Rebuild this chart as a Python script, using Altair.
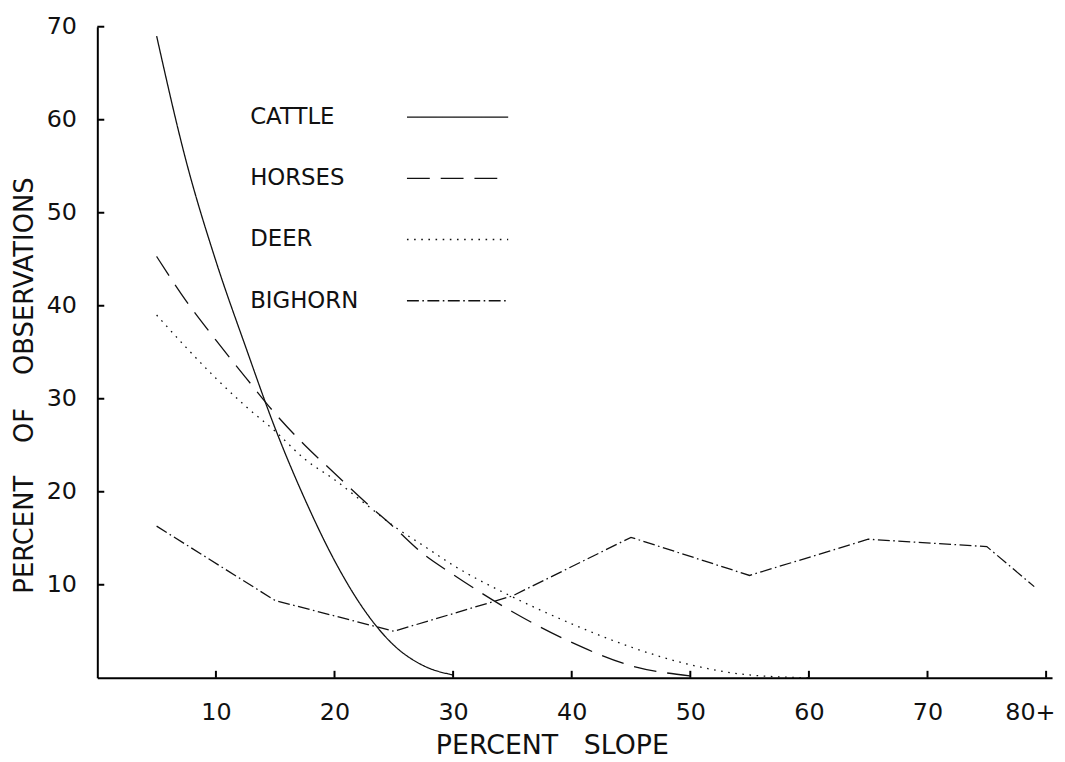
import altair as alt
import pandas as pd

# ---- data ----
species = ["CATTLE", "HORSES", "DEER", "BIGHORN"]

cattle_x = [5, 7.5, 10, 12.5, 15, 17.5, 20, 22.5, 25, 27.5, 30]
cattle_y = [69, 55.5, 44.8, 35.6, 26.8, 19.2, 12.6, 7.3, 3.5, 1.3, 0.3]

horses_x = [5, 7.5, 10, 12.5, 15, 17.5, 20, 22.5, 25, 27.5, 30, 35, 40, 45, 50]
horses_y = [45.3, 40.5, 36.3, 32.3, 28.4, 25.0, 22.0, 19.0, 16.2, 13.3, 11.1, 7.1, 3.8, 1.3, 0.2]

deer_x = [5, 7.5, 10, 12.5, 15, 17.5, 20, 22.5, 25, 27.5, 30, 35, 40, 45, 50, 55, 60]
deer_y = [39.0, 35.5, 32.2, 29.2, 26.5, 23.5, 21.3, 18.8, 16.3, 14.2, 12.1, 8.7, 5.8, 3.3, 1.4, 0.3, 0.0]

bighorn_x = [5, 15, 25, 35, 45, 55, 65, 75, 79]
bighorn_y = [16.3, 8.3, 5.0, 8.8, 15.1, 11.0, 14.9, 14.1, 9.8]

x_tick_values = [10, 20, 30, 40, 50, 60, 70, 80]
x_tick_labels = ["10", "20", "30", "40", "50", "60", "70", "80+"]
y_tick_values = [10, 20, 30, 40, 50, 60, 70]

x_title = "PERCENT\u00a0\u00a0\u00a0SLOPE"
y_title = "PERCENT\u00a0\u00a0\u00a0\u00a0OF\u00a0\u00a0\u00a0\u00a0OBSERVATIONS"

# ---- styling ----
FONT = "DejaVu Sans"
INK = "#111111"
W, H = 962, 656
dashes = [[1, 0], [23, 11], [1.6, 5.6], [12, 3.5, 1.6, 3.5]]

rows = []
for name, xs, ys in [("CATTLE", cattle_x, cattle_y), ("HORSES", horses_x, horses_y),
                     ("DEER", deer_x, deer_y), ("BIGHORN", bighorn_x, bighorn_y)]:
    for a, b in zip(xs, ys):
        rows.append({"species": name, "slope": a, "pct": b})
df = pd.DataFrame(rows)

label_expr = "{" + ",".join(f"'{v}':'{l}'" for v, l in zip(x_tick_values, x_tick_labels)) + "}[datum.value]"
last_x = x_tick_values[-1]

x_scale = alt.Scale(domain=[0, 80.5], nice=False, zero=True)
y_scale = alt.Scale(domain=[0, 70], nice=False, zero=True)

x_axis = alt.Axis(values=x_tick_values, labelExpr=label_expr, tickSize=0, grid=False,
                  domainColor="black", domainWidth=2, labelFontSize=24, labelFont=FONT,
                  labelColor=INK, labelPadding=23,
                  labelAlign={"condition": {"test": f"datum.value == {last_x}", "value": "right"}, "value": "center"},
                  labelOffset={"condition": {"test": f"datum.value == {last_x}", "value": 9}, "value": 0},
                  title=x_title, titleFont=FONT,
                  titleFontSize=27, titleFontWeight="normal", titleColor=INK,
                  titleX=458, titleY=55, titleAlign="center", titleBaseline="top")
y_axis = alt.Axis(values=y_tick_values, tickSize=0, grid=False, domainColor="black",
                  domainWidth=2, labelFontSize=24, labelFont=FONT, labelColor=INK,
                  labelPadding=21, title=y_title, titleFont=FONT, titleFontSize=26,
                  titleFontWeight="normal", titleColor=INK, titleX=-60, titleY=361,
                  titleAlign="center", titleAngle=270)

smooth_df = df[df.species != "BIGHORN"]
big_df = df[df.species == "BIGHORN"]

dash_scale = alt.Scale(domain=species, range=dashes)

smooth = alt.Chart(smooth_df).mark_line(interpolate="monotone", color=INK, strokeWidth=1.3).encode(
    x=alt.X("slope:Q", scale=x_scale, axis=x_axis),
    y=alt.Y("pct:Q", scale=y_scale, axis=y_axis),
    strokeDash=alt.StrokeDash("species:N", scale=dash_scale, legend=None),
)
big = alt.Chart(big_df).mark_line(interpolate="linear", color=INK, strokeWidth=1.3).encode(
    x=alt.X("slope:Q", scale=x_scale),
    y=alt.Y("pct:Q", scale=y_scale),
    strokeDash=alt.StrokeDash("species:N", scale=dash_scale, legend=None),
)

# inward tick marks
xt = alt.Chart(pd.DataFrame({"v": x_tick_values})).mark_rule(color="black", strokeWidth=2).encode(
    x=alt.X("v:Q", scale=x_scale), y=alt.value(H), y2=alt.value(H - 7))
yt = alt.Chart(pd.DataFrame({"v": y_tick_values})).mark_rule(color="black", strokeWidth=2).encode(
    y=alt.Y("v:Q", scale=y_scale), x=alt.value(0), x2=alt.value(7))

# in-plot legend
legend_layers = []
row0, gap = 91, 61.7
for i, name in enumerate(species):
    yy = row0 + i * gap
    legend_layers.append(
        alt.Chart(pd.DataFrame({"label": [name]})).mark_text(
            align="left", baseline="middle", font=FONT, fontSize=23, color=INK
        ).encode(text="label:N", x=alt.value(154), y=alt.value(yy))
    )
    legend_layers.append(
        alt.Chart(pd.DataFrame({"label": [name]})).mark_rule(
            color=INK, strokeWidth=1.3, strokeDash=dashes[i]
        ).encode(x=alt.value(312), x2=alt.value(414), y=alt.value(yy))
    )

chart = alt.layer(smooth, big, xt, yt, *legend_layers).properties(
    width=W, height=H,
    autosize=alt.AutoSizeParams(type="none"),
    padding={"left": 90, "top": 16, "right": 5, "bottom": 82},
    background="white",
).configure_view(stroke=None)

chart.save("out.html", embed_options={"renderer": "svg", "actions": False})
